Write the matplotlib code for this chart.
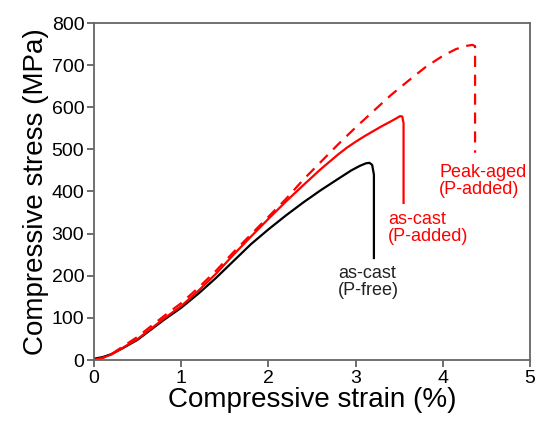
import matplotlib
matplotlib.use("Agg")
import matplotlib.pyplot as plt

# Data
free_strain = [0, 0.1, 0.2, 0.33, 0.5, 0.64, 0.8, 1.0, 1.2, 1.4, 1.6, 1.8, 2.0, 2.2, 2.4,
               2.6, 2.8, 2.95, 3.05, 3.12, 3.16, 3.19, 3.21, 3.21]
free_stress = [3, 7, 14, 28, 48, 70, 95, 124, 158, 195, 235, 275, 310, 343, 374,
               403, 430, 450, 461, 467, 468, 463, 440, 242]

cast_strain = [0, 0.1, 0.2, 0.33, 0.5, 0.64, 0.8, 1.0, 1.2, 1.4, 1.6, 1.8, 2.0, 2.2, 2.4,
               2.6, 2.8, 2.9, 3.0, 3.1, 3.2, 3.3, 3.4, 3.47, 3.51, 3.535, 3.55, 3.55]
cast_stress = [0, 5, 13, 29, 50, 72, 98, 128, 165, 205, 250, 293, 335, 376, 415,
               453, 488, 504, 518, 531, 543, 555, 566, 574, 579, 578, 562, 373]

aged_strain = [0, 0.1, 0.2, 0.33, 0.5, 0.64, 0.8, 1.0, 1.2, 1.4, 1.6, 1.8, 2.0, 2.2, 2.4,
               2.6, 2.8, 3.0, 3.2, 3.4, 3.6, 3.8, 4.0, 4.15, 4.28, 4.34, 4.37, 4.37]
aged_stress = [0, 5, 14, 32, 55, 78, 104, 135, 172, 212, 256, 298, 340, 382, 428,
               470, 512, 552, 590, 628, 662, 695, 722, 738, 746, 748, 745, 492]

x_ticks = [0, 1, 2, 3, 4, 5]
y_ticks = [0, 100, 200, 300, 400, 500, 600, 700, 800]

plt.rcParams['font.family'] = ['Liberation Sans', 'DejaVu Sans']

fig = plt.figure(figsize=(5.36, 4.23), dpi=100)
ax = fig.add_axes([94/536, 1-360/423, (530-94)/536, (360-23)/423])

ax.plot(free_strain, free_stress, color='black', lw=1.6)
ax.plot(cast_strain, cast_stress, color='#ff0000', lw=1.6)
ax.plot(aged_strain, aged_stress, color='#ff0000', lw=1.6, dashes=(5, 3.5))

ax.set_xlim(0, 5)
ax.set_ylim(0, 800)
ax.set_xticks(x_ticks)
ax.set_yticks(y_ticks)
ax.tick_params(axis='both', direction='out', length=5, width=1.2, color='#555555',
               labelsize=14, pad=2, top=False, right=False)
for s in ax.spines.values():
    s.set_color('#666666')
    s.set_linewidth(1.3)

ax.set_xlabel('Compressive strain (%)', fontsize=20, labelpad=0)
ax.set_ylabel('Compressive stress (MPa)', fontsize=20, labelpad=2)

ax.text(3.96, 425, 'Peak-aged\n(P-added)', color='#ff0000', fontsize=13,
        ha='left', va='center', linespacing=1.05)
ax.text(3.37, 313, 'as-cast\n(P-added)', color='#ff0000', fontsize=13,
        ha='left', va='center', linespacing=1.05)
ax.text(2.80, 185, 'as-cast\n(P-free)', color='#222222', fontsize=13,
        ha='left', va='center', linespacing=1.05)

fig.savefig('out.png', dpi=100)
